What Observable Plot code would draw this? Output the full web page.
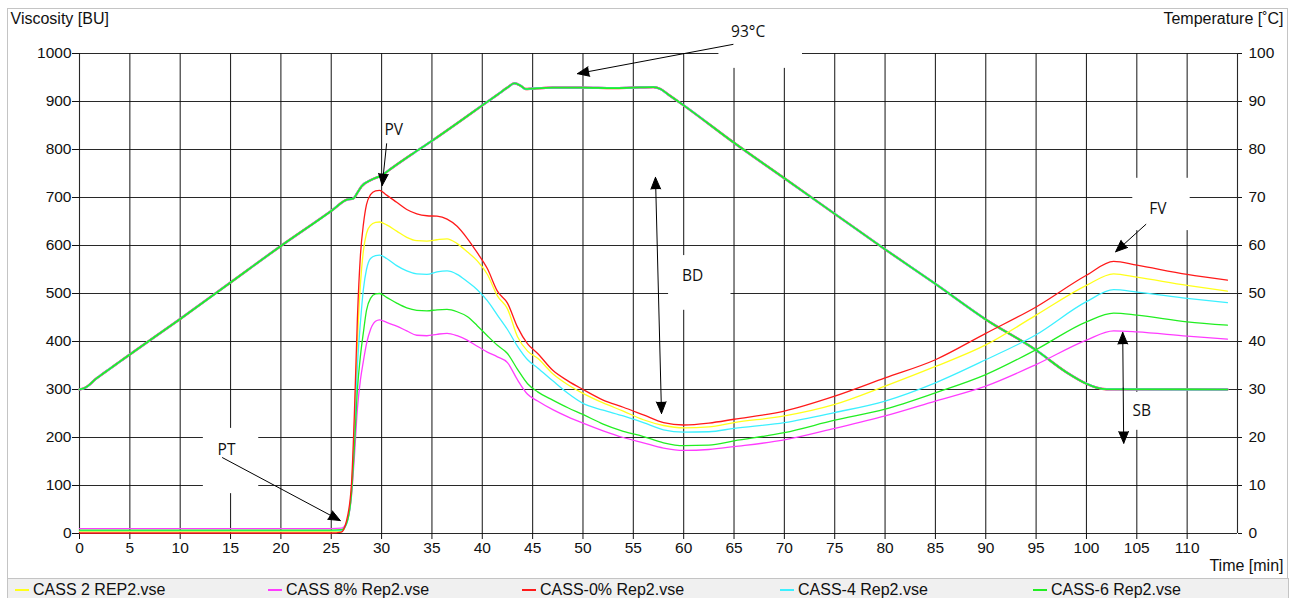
<!DOCTYPE html>
<html>
<head>
<meta charset="utf-8">
<script src="https://cdn.jsdelivr.net/npm/d3@7"></script>
<script src="https://cdn.jsdelivr.net/npm/@observablehq/plot@0.6"></script>
<style>
  html, body { margin: 0; padding: 0; background: #fff; }
  #wrap { position: relative; width: 1294px; height: 598px; overflow: hidden; font-family: "Liberation Sans", Arial, sans-serif; }
  #chart { position: absolute; left: 0; top: 0; }
  #frame { position: absolute; left: 7px; top: 8px; width: 1279px; height: 570px; border: 1px solid #c4c4c4; border-bottom: none; pointer-events: none; }
  #legend { position: absolute; left: 7px; top: 578px; width: 1280px; height: 20px; background: #f0f0f0; border-top: 1px solid #c4c4c4; border-left: 1px solid #c4c4c4; border-right: 1px solid #c4c4c4; }
  .item { position: absolute; top: 1px; font-size: 16px; color: #111; white-space: nowrap; line-height: 19px; }
  .swatch { position: absolute; top: 10px; width: 14px; height: 2px; }
</style>
</head>
<body>
<div id="wrap">
  <div id="chart"></div>
  <div id="frame"></div>
  <div id="legend"></div>
</div>
<script>
// ---------- data ----------
const seriesNames = ["CASS 2 REP2.vse", "CASS 8% Rep2.vse", "CASS-0% Rep2.vse", "CASS-4 Rep2.vse", "CASS-6 Rep2.vse"];
const seriesColors = ["#ffff1a", "#ff3cff", "#ff1a1a", "#3cf0ff", "#22ee22"];

// time [min] for viscosity curves
const viscTime = [0, 10, 20, 25, 26, 26.5, 27, 27.3, 27.6, 27.9, 28.2, 28.5, 28.9, 29.4, 29.8,
  30.5, 31.5, 32.5, 33.5, 34.5, 35.5, 36.5, 37.5, 38.5, 39.5, 40.5, 41.5, 42.5, 43.5, 44.5,
  45.5, 47, 48.5, 50, 52, 54, 56, 58, 60, 62.5, 65,
  70, 75, 80, 85, 90, 95, 100, 102.7, 105, 110, 114];

// viscosity [BU]
const cass2 = [4, 4, 4, 4, 4, 20, 90, 220, 400, 520, 590, 625, 642, 648, 649,
  643, 630, 617, 610, 609, 612, 614, 604, 587, 568, 540, 495, 468, 410, 380,
  365, 333, 310, 292, 272, 255, 237, 225, 220, 222, 231,
  245, 269, 307, 348, 393, 455, 517, 541, 534, 517, 505];
const cass8 = [10, 10, 10, 10, 11, 22, 75, 160, 260, 320, 360, 395, 425, 442, 445,
  440, 432, 422, 413, 412, 415, 417, 412, 403, 390, 378, 368, 356, 320, 290,
  276, 258, 243, 230, 214, 200, 189, 178, 173, 175, 181,
  195, 219, 245, 276, 307, 352, 403, 422, 420, 411, 405];
const cass0 = [1, 1, 1, 1, 3, 25, 100, 250, 450, 580, 645, 685, 706, 714, 715,
  705, 690, 675, 666, 662, 661, 655, 640, 615, 585, 552, 505, 480, 430, 395,
  375, 340, 318, 300, 278, 263, 247, 231, 226, 230, 238,
  255, 286, 324, 362, 417, 472, 538, 567, 559, 540, 528];
const cass4 = [6, 6, 6, 6, 6, 18, 85, 200, 350, 440, 510, 550, 573, 579, 580,
  573, 558, 547, 541, 540, 545, 547, 540, 525, 508, 485, 455, 425, 390, 362,
  345, 318, 292, 271, 257, 245, 231, 216, 211, 212, 219,
  231, 252, 276, 314, 362, 414, 483, 508, 503, 490, 481];
const cass6 = [7, 7, 7, 7, 8, 20, 80, 180, 300, 370, 420, 465, 490, 499, 500,
  492, 480, 470, 465, 464, 466, 467, 462, 452, 433, 412, 392, 375, 342, 312,
  295, 278, 262, 248, 228, 213, 202, 189, 183, 184, 193,
  210, 236, 259, 293, 331, 383, 441, 459, 455, 441, 434];
const seriesValues = [cass2, cass8, cass0, cass4, cass6];

// temperature profile [°C]
const tempTime = [0, 0.5, 1, 1.5, 2, 3, 4, 5, 10, 15, 20, 25, 26.5, 27.2, 27.6, 28, 29, 30, 31, 33, 35, 38,
  40, 41.5, 42.5, 43.2, 43.8, 44.3, 45, 47, 50, 53, 55, 57, 57.7, 58.5, 60,
  65, 70, 75, 80, 85, 90, 95, 98, 100, 101, 102, 114];
const tempC = [30, 30.3, 31, 32, 32.8, 34.3, 35.8, 37.3, 44.7, 52.3, 59.9, 67.2, 69.5, 69.8, 71.0, 72.3, 73.7, 74.6, 76.1, 79.0, 81.8, 86.2,
  89.2, 91.4, 92.9, 93.8, 93.3, 92.6, 92.7, 92.9, 92.9, 92.8, 92.9, 93.0, 92.6, 91.4, 89.2,
  81.4, 74.0, 66.6, 59.2, 52.0, 44.6, 38.2, 33.6, 31.2, 30.4, 30.05, 30];

// axes
const xTicks = d3.range(0, 111, 5);
const xGridLines = d3.range(0, 116, 5);
const yTicks = d3.range(0, 1001, 100);

// annotations (time, BU)
const annLabels = ["93°C", "PV", "BD", "FV", "SB", "PT"];
const annX = [66.4, 31.2, 60.9, 107.1, 105.5, 14.6];
const annY = [1044, 840, 537, 677, 256, 173];
// white boxes behind labels [t1, t2, bu1, bu2]
const boxX1 = [63.5, 58.5, 104.6, 103.9, 12.3];
const boxX2 = [71.8, 64.7, 110.3, 107.0, 17.8];
const boxY1 = [969, 465, 631, 215, 83];
const boxY2 = [1070, 579, 740, 294, 219];
// arrows (start -> tip)
const arrX1 = [64.9, 30.5, 57.5, 57.5, 105.9, 103.65, 103.65, 14.2];
const arrY1 = [1019, 812, 496, 496, 644, 303, 303, 158];
const arrX2 = [49.45, 30.06, 57.2, 57.8, 102.9, 103.6, 103.7, 25.9];
const arrY2 = [958, 725, 742, 250, 587, 419, 188, 27];

// ---------- tables ----------
const viscRows = [];
seriesNames.forEach((name, si) => {
  viscTime.forEach((t, i) => viscRows.push({series: name, t, v: seriesValues[si][i]}));
});
const tempRows = tempTime.map((t, i) => ({t, temp: tempC[i]}));
const annRows = annLabels.map((label, i) => ({label, x: annX[i], y: annY[i]}));
const boxRows = boxX1.map((d, i) => ({x1: d, x2: boxX2[i], y1: boxY1[i], y2: boxY2[i]}));
const arrRows = arrX1.map((d, i) => ({x1: d, y1: arrY1[i], x2: arrX2[i], y2: arrY2[i]}));

const colorOf = Object.fromEntries(seriesNames.map((n, i) => [n, seriesColors[i]]));

const tempLayer = (color, w) => Plot.line(tempRows, {x: "t", y: d => d.temp * 10, stroke: color, strokeWidth: w, curve: "monotone-x"});

const drawOrder = ["CASS 2 REP2.vse", "CASS 8% Rep2.vse", "CASS-4 Rep2.vse", "CASS-6 Rep2.vse", "CASS-0% Rep2.vse"];

const chart = Plot.plot({
  width: 1294,
  height: 578,
  marginLeft: 79,
  marginRight: 57,
  marginTop: 53,
  marginBottom: 45,
  x: {domain: [0, 115]},
  y: {domain: [0, 1000]},
  style: {fontFamily: "'Liberation Sans', Arial, sans-serif", fontSize: "16px", background: "transparent", overflow: "visible", color: "#111"},
  marks: [
    Plot.gridX(xGridLines, {stroke: "#111", strokeOpacity: 0.9, strokeWidth: 1.1}),
    Plot.gridY(yTicks, {stroke: "#111", strokeOpacity: 0.9, strokeWidth: 1.1}),
    Plot.rect(boxRows, {x1: "x1", x2: "x2", y1: "y1", y2: "y2", fill: "white"}),
    Plot.axisX({ticks: xTicks, tickSize: 6, tickPadding: 2, label: null, fontSize: 15.5, tickFormat: d => String(d), stroke: "#111"}),
    Plot.axisY({anchor: "left", ticks: yTicks, tickSize: 7, tickPadding: 1, label: null, fontSize: 15.5, tickFormat: d => String(d), stroke: "#111"}),
    Plot.axisY({anchor: "right", ticks: yTicks, tickSize: 4, tickPadding: 7, label: null, fontSize: 15.5, tickFormat: d => String(d / 10), stroke: "#111"}),
    tempLayer(colorOf["CASS-0% Rep2.vse"], 2.3),
    tempLayer(colorOf["CASS 8% Rep2.vse"], 2.1),
    tempLayer(colorOf["CASS-4 Rep2.vse"], 1.9),
    tempLayer(colorOf["CASS-6 Rep2.vse"], 1.7),
    ...drawOrder.map(name => Plot.line(viscRows.filter(d => d.series === name), {x: "t", y: "v", stroke: colorOf[name], strokeWidth: 1.3, curve: "monotone-x"})),
    Plot.arrow(arrRows, {x1: "x1", y1: "y1", x2: "x2", y2: "y2", stroke: "#000", fill: "#000", strokeWidth: 1, headLength: 19, headAngle: 45}),
    Plot.text(annRows, {x: "x", y: "y", text: "label", fontFamily: "'Open Sans', sans-serif", fontSize: 15.5, fill: "#111", textAnchor: "middle", lineAnchor: "middle"}),
    Plot.text(["Viscosity [BU]"], {frameAnchor: "top-left", dx: -69, dy: -35, textAnchor: "start", lineAnchor: "middle", fontSize: 16, fill: "#111"}),
    Plot.text(["Temperature [˚C]"], {frameAnchor: "top-right", dx: 46, dy: -35, textAnchor: "end", lineAnchor: "middle", fontSize: 16, fill: "#111"}),
    Plot.text(["Time [min]"], {frameAnchor: "bottom-right", dx: 46, dy: 32, textAnchor: "end", lineAnchor: "middle", fontSize: 16, fill: "#111"})
  ]
});
document.getElementById("chart").appendChild(chart);

// legend
const legend = document.getElementById("legend");
const legendLeft = [7, 260, 514, 772, 1025];
seriesNames.forEach((name, i) => {
  const sw = document.createElement("div");
  sw.className = "swatch";
  sw.style.left = legendLeft[i] + "px";
  sw.style.background = seriesColors[i];
  legend.appendChild(sw);
  const tx = document.createElement("div");
  tx.className = "item";
  tx.style.left = (legendLeft[i] + 18) + "px";
  tx.textContent = name;
  legend.appendChild(tx);
});
</script>
</body>
</html>
